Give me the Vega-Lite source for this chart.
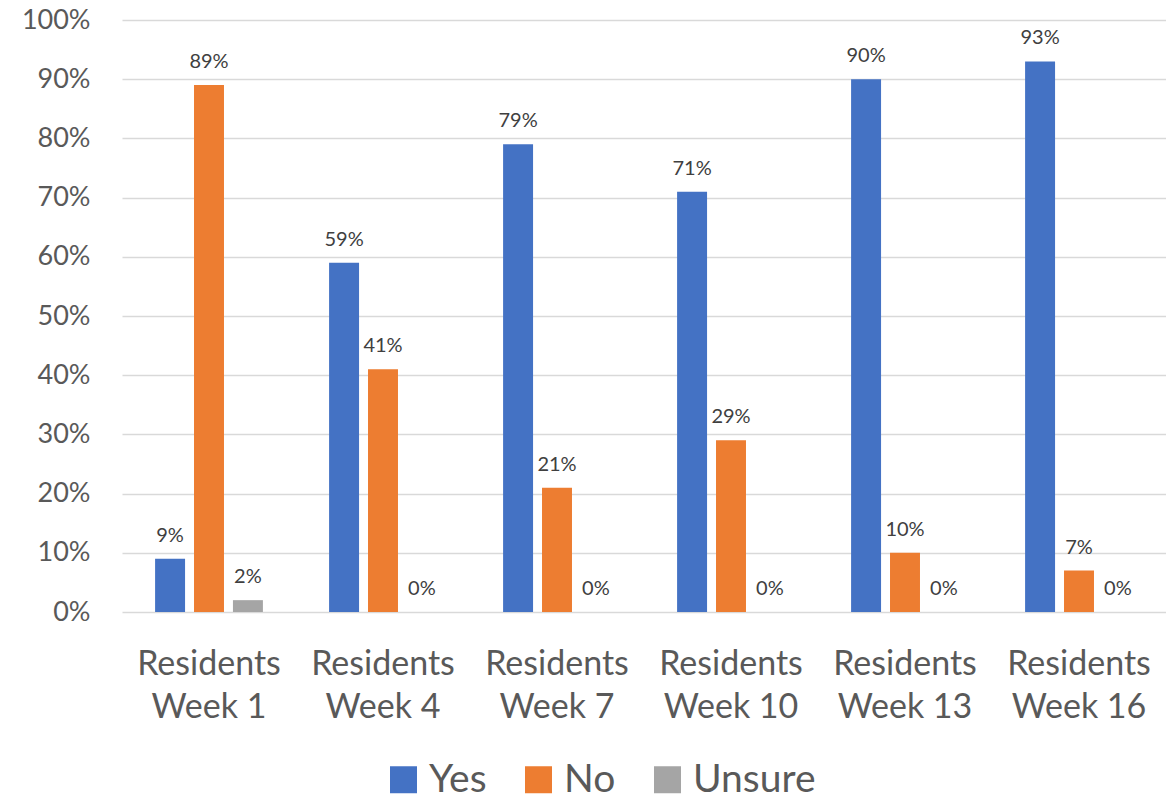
{
  "$schema": "https://vega.github.io/schema/vega-lite/v6.json",
  "width": 1044,
  "height": 592,
  "autosize": "none",
  "padding": {"left": 122, "top": 20, "right": 0, "bottom": 195},
  "background": "white",
  "config": {"font": "Lato", "view": {"stroke": null}},
  "data": {
    "values": [
      {"week": "Residents Week 1", "answer": "Yes", "pct": 9},
      {"week": "Residents Week 1", "answer": "No", "pct": 89},
      {"week": "Residents Week 1", "answer": "Unsure", "pct": 2},
      {"week": "Residents Week 4", "answer": "Yes", "pct": 59},
      {"week": "Residents Week 4", "answer": "No", "pct": 41},
      {"week": "Residents Week 4", "answer": "Unsure", "pct": 0},
      {"week": "Residents Week 7", "answer": "Yes", "pct": 79},
      {"week": "Residents Week 7", "answer": "No", "pct": 21},
      {"week": "Residents Week 7", "answer": "Unsure", "pct": 0},
      {"week": "Residents Week 10", "answer": "Yes", "pct": 71},
      {"week": "Residents Week 10", "answer": "No", "pct": 29},
      {"week": "Residents Week 10", "answer": "Unsure", "pct": 0},
      {"week": "Residents Week 13", "answer": "Yes", "pct": 90},
      {"week": "Residents Week 13", "answer": "No", "pct": 10},
      {"week": "Residents Week 13", "answer": "Unsure", "pct": 0},
      {"week": "Residents Week 16", "answer": "Yes", "pct": 93},
      {"week": "Residents Week 16", "answer": "No", "pct": 7},
      {"week": "Residents Week 16", "answer": "Unsure", "pct": 0}
    ]
  },
  "encoding": {
    "x": {
      "field": "week", "type": "nominal", "sort": null,
      "scale": {"paddingInner": 0, "paddingOuter": 0},
      "axis": {
        "title": null, "labelAngle": 0, "domain": false, "ticks": false,
        "labelFont": "Lato", "labelFontSize": 34, "labelColor": "#595959",
        "labelPadding": 52, "labelLineHeight": 43, "labelBaseline": "middle",
        "labelExpr": "['Residents', slice(datum.label, 10)]"
      }
    },
    "xOffset": {
      "field": "answer", "type": "nominal", "sort": ["Yes", "No", "Unsure"],
      "scale": {"paddingInner": 0.23, "paddingOuter": 0.85}
    },
    "y": {
      "field": "pct", "type": "quantitative",
      "scale": {"domain": [0, 100]},
      "axis": {
        "title": null, "values": [0,10,20,30,40,50,60,70,80,90,100],
        "labelExpr": "datum.value + '%'", "domain": false, "ticks": false,
        "labelFont": "Lato", "labelFontSize": 27, "labelColor": "#595959",
        "labelPadding": 32, "gridColor": "#D9D9D9", "gridWidth": 1.5
      }
    }
  },
  "layer": [
    {
      "mark": {"type": "bar"},
      "encoding": {
        "color": {
          "field": "answer", "type": "nominal",
          "scale": {"domain": ["Yes", "No", "Unsure"], "range": ["#4472C4", "#ED7D31", "#A5A5A5"]},
          "legend": {
            "title": null, "orient": "none", "direction": "horizontal",
            "legendX": 262, "legendY": 740,
            "symbolType": "square", "symbolSize": 729, "symbolStrokeWidth": 0,
            "labelFont": "Lato", "labelFontSize": 39, "labelColor": "#595959",
            "labelOffset": 6, "columnPadding": 32,
            "symbolOpacity": 1
          }
        }
      }
    },
    {
      "transform": [{"calculate": "datum.pct + '%'", "as": "lbl"}],
      "mark": {"type": "text", "baseline": "bottom", "dy": -13, "fontSize": 20, "color": "#404040", "font": "Lato"},
      "encoding": {
        "text": {"field": "lbl", "type": "nominal"},
        "detail": {"field": "answer"}
      }
    }
  ]
}
